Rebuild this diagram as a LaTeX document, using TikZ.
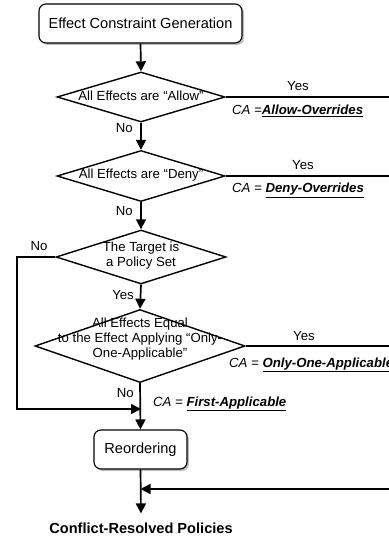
\documentclass[tikz,border=0pt]{standalone}
\usepackage{fontspec}
\setmainfont{Liberation Sans}
\usetikzlibrary{shapes.geometric,arrows.meta,shadows}
\newcommand\myBig{\fontsize{14.6}{17}\selectfont}
\newcommand\mySmall{\fontsize{13.2}{15}\selectfont}
\begin{document}
\begin{tikzpicture}[x=1pt,y=-1pt,
  box/.style={draw, line width=1.1pt, rounded corners=7pt, fill=white, inner sep=0pt,
    drop shadow={shadow xshift=2pt, shadow yshift=-2pt, fill=black!25, opacity=1},
    font=\myBig},
  dia/.style={draw, shape=diamond, line width=1.4pt, inner sep=0pt, fill=white},
  dtext/.style={font=\mySmall, align=center, inner sep=0pt},
  lbl/.style={font=\mySmall, inner sep=0pt},
  flow/.style={line width=1.7pt, -{Triangle[length=10pt,width=10pt]}},
  plain/.style={line width=1.7pt}]
\useasboundingbox (0,0) rectangle (388,540);
\coordinate (edge) at (392,0);
\coordinate (lft) at (17,0);

\node[box, minimum width=203pt, minimum height=39pt] (top) at (140.5,23.5) {Effect Constraint Generation};

\node[dia, minimum width=168pt, minimum height=50pt] (d1) at (141,97) {};
\node[dtext] at (141,96) {All Effects are “Allow”};

\node[dia, minimum width=168pt, minimum height=51pt] (d2) at (141,176) {};
\node[dtext] at (141,175) {All Effects are “Deny”};

\node[dia, minimum width=170pt, minimum height=54pt] (d3) at (141,257) {};
\node[dtext] at (141,256) {The Target is\\a Policy Set};

\node[dia, minimum width=210pt, minimum height=73pt] (d4) at (140,346) {};
\node[dtext] at (140,339) {All Effects Equal\\to the Effect Applying “Only-\\One-Applicable”};

\node[box, minimum width=93pt, minimum height=39pt] (reo) at (140.5,449.5) {Reordering};

\node[font=\myBig\bfseries, inner xsep=0pt, inner ysep=9pt] (out) at (141,528) {Conflict-Resolved Policies};

\coordinate (merge) at (141,409);
\coordinate (ret) at (392,489);

% connectors
\draw[flow] (top.south) -- (d1.north);
\draw[flow] (d1.south) -- (d2.north);
\draw[flow] (d2.south) -- (d3.north);
\draw[flow] (d3.south) -- (d4.north);
\draw[flow] (d4.south) -- (reo.north);
\draw[flow] (reo.south) -- (out.north);
\draw[plain] (d1.east) -- (d1.east -| edge);
\draw[plain] (d2.east) -- (d2.east -| edge);
\draw[plain] (d4.east) -- (d4.east -| edge);
\draw[flow] (d3.west) -- (d3.west -| lft) |- (merge);
\draw[flow] (ret) -- (ret -| reo.south);

% labels
\node[lbl] (y1) at (298,86) {Yes};
\node[lbl] (y2) at (303,165) {Yes};
\node[lbl] (y4) at (304,336) {Yes};
\node[lbl, anchor=east] (n1) at (133,128) {No};
\node[lbl, anchor=east] (n2) at (133,211) {No};
\node[lbl, anchor=east] (y3) at (134,295) {Yes};
\node[lbl, anchor=east] (n4) at (134,393) {No};
\node[lbl] (n3) at (39,246) {No};

\node[lbl, anchor=base west] (ca1) at (232,115) {\itshape CA =\textbf{\underline{Allow-Overrides}}};
\node[lbl, anchor=base west] (ca2) at (232,193) {\itshape CA = \textbf{\underline{Deny-Overrides}}};
\node[lbl, anchor=base west] (ca4) at (229,367) {\itshape CA = \textbf{\underline{Only-One-Applicable}}};
\node[lbl, anchor=base west] (ca5) at (153,406) {\itshape CA = \textbf{\underline{First-Applicable}}};
\end{tikzpicture}
\end{document}
